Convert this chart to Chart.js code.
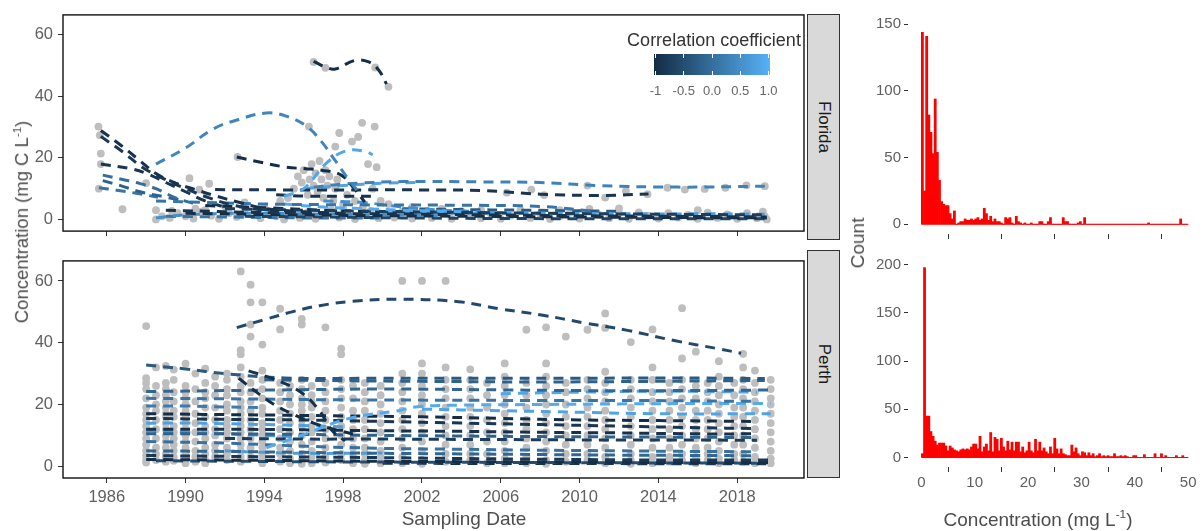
<!DOCTYPE html>
<html>
<head>
<meta charset="utf-8">
<script src="https://cdn.jsdelivr.net/npm/chart.js@4"></script>
<style>
  body { margin: 0; background: #fff; font-family: "Liberation Sans", Arial, sans-serif; }
  #wrap { position: relative; width: 1204px; height: 531px; overflow: hidden; }
  canvas { position: absolute; }
  .txt { position: absolute; white-space: nowrap; transform: translate(-50%, -50%); color: #4d4d4d; }
  .rot { transform: translate(-50%, -50%) rotate(-90deg); }
  .strip { position: absolute; box-sizing: border-box; width: 33px; left: 807px; background: #d9d9d9; border: 1px solid #333; }
  .strip span { position: absolute; left: 50%; top: 50%; transform: translate(-50%, -50%) rotate(90deg); font-size: 17px; color: #1a1a1a; white-space: nowrap; }
  sup { font-size: 0.62em; }
</style>
</head>
<body>
<div id="wrap">
  <canvas id="flo" width="808" height="246" style="left:0;top:0"></canvas>
  <canvas id="per" width="808" height="285" style="left:0;top:246px"></canvas>
  <canvas id="floH" width="364" height="246" style="left:840px;top:0"></canvas>
  <canvas id="perH" width="364" height="285" style="left:840px;top:246px"></canvas>

  <div class="strip" style="top:14px;height:226px"><span>Florida</span></div>
  <div class="strip" style="top:250px;height:228px"><span>Perth</span></div>

  <div class="txt rot" style="left:22px;top:222px;font-size:18.5px">Concentration (mg C L<sup>-1</sup>)</div>
  <div class="txt" style="left:464px;top:519px;font-size:19px">Sampling Date</div>
  <div class="txt rot" style="left:858px;top:243px;font-size:19px">Count</div>
  <div class="txt" style="left:1038px;top:519px;font-size:19px">Concentration (mg L<sup>-1</sup>)</div>

  <div class="txt" style="left:714px;top:40px;font-size:18px;color:#333">Correlation coefficient</div>
  <div id="cbar" style="position:absolute;left:654px;top:54px;width:116px;height:21px;background:linear-gradient(to right,#132B43,#56B1F7)"></div>
</div>

<script>
// axis ticks
const xTicks = [1986, 1990, 1994, 1998, 2002, 2006, 2010, 2014, 2018];
const yTicks = [0, 20, 40, 60];
const histXTicks = [0, 10, 20, 30, 40, 50];
const floridaHistTicks = [0, 50, 100, 150];
const perthHistTicks = [0, 50, 100, 150, 200];
const cbTicks = [-1, -0.5, 0, 0.5, 1];
const cbLabels = ["-1", "-0.5", "0.0", "0.5", "1.0"];

// Florida: observations (year, mg C/L)
const floridaPts = [
  [1985.58,30.2],[1985.65,27.4],[1985.7,21.4],[1985.7,18],[1985.6,10],[1986.8,3.3],[1988,11.8],[1988.5,3],[1988.5,0],
  [1990.2,13.4],[1990.7,9.7],[1991.2,11.6],[1992.64,20.3],[1996.26,30.2],[1996.5,51.2],[1997.1,49.3],[1997.8,28.1],
  [1997.6,23.7],[1998.45,25.3],[1998.76,26.8],[1998.96,31.4],[1999.6,30.2],[1999.63,49.4],[2000.3,43.1],[1999.26,18],[1999.7,17],
  [1995.5,10],[1995.7,14],[1995.9,12],[1996,16],[1996.2,8],[1996.3,13],[1996.4,18],[1996.5,11],[1996.6,15],[1996.7,9],
  [1996.8,19],[1996.9,13],[1997,7],[1997.1,16],[1997.2,11],[1997.3,14],[1997.5,6],[1997.6,10],[1997.7,13],[1998,5],
  [1998.2,8],[1998.6,6],[1999,4],[1999.5,10],[1999.9,6],[2000.3,5],[1995.2,7],[1994.8,6],
  [2006.3,8.7],[2007.55,9.7],[2008.2,7.9],[2010.4,11],[2011.3,7.1],[2012.35,9.2],[2013.45,8.2],[2014.46,10.3],[2015.34,9.7],
  [2016.35,9.9],[2017.4,10.3],[2018.47,11.1],[2019.4,10.8],[2001.5,4],[2004,2.7],[2007,3],[2010.5,3.4],[2013,2.3],[2019.4,1],[2019.5,0],
  [1988.8,1],[1989.2,0.5],[1989.6,2],[1990,1],[1990.4,0.3],[1990.8,2.5],[1991.3,1.2],[1991.7,0.2],[1992.2,2],[1992.6,0.8],
  [1993,3],[1993.4,1.5],[1993.8,0.4],[1994.2,2.2],[1994.6,1],[1995,0],[1995.4,1.8],[1995.8,0.5],[1996.2,2.4],[1996.6,0.2],
  [1997,1.4],[1997.4,3],[1997.8,0.6],[1998.2,2],[1998.6,0.1],[1999,1.5],[1999.4,2.8],[1999.8,0.4],[2000.2,1.8],[2000.6,0.6],
  [2001,2.5],[2001.5,0.3],[2002,1.6],[2002.5,0.5],[2003,2],[2003.5,0.2],[2004.5,1],[2005,0.4],[2005.5,1.8],[2006,0.2],
  [2006.5,1.2],[2007.5,0.5],[2008,1.8],[2008.5,0.1],[2009,1],[2009.5,2.2],[2010,0.3],[2011,1.5],[2011.5,0.4],[2012,2],
  [2012.5,0.2],[2013.5,1.2],[2014,0.3],[2014.5,2],[2015,0.6],[2015.5,1.5],[2016,0.2],[2016.5,2.2],[2017,0.5],[2017.5,1.6],
  [2018,0.2],[2018.5,2],[2019,0.4],[2019.3,2.5],[1990.5,3.5],[1992,4.2],[1989.3,2.8],[1991,3],[1994,4],[1998,3.6],
  [1993,5.5],[2003,3.4],[2005,3],[2009,3],[2012,3.6],[2016,3]
];

// Florida: fitted trend lines and their correlation coefficients
const floridaCoef = [-0.95, 0.35, -0.9, -0.8, -0.95, 0.85, 0.3, -0.85, 0.8, -0.9, 0.1, 0.9, -0.85, 0, -0.2, 0.1,
  -0.9, -0.95, 0.5, -0.7, 0.7, -0.6, -1, 0.5, 0.1, -0.3];
const floridaLines = [
  [[1996.5,51.4],[1997.2,49.3],[1997.6,48.9],[1998.6,51.7],[1999.3,51.2],[1999.8,48.6],[2000.2,44]],
  [[1988.5,18],[1990,23.2],[1991.4,29.4],[1992.7,32.5],[1994.1,34.6],[1995.1,33.6],[1996.1,30.5],[1996.9,25.3],[1997.6,19.1],[1998.3,12.8],[1998.8,8.7]],
  [[1985.7,28.9],[1986.7,24.2],[1987.7,19],[1988.5,14.9],[1989.5,11.8],[1990.5,9.7],[1991.5,7.7],[1992.7,5.6],[1994.1,3.5],[1996,2.5],[1998,2]],
  [[1985.7,27],[1986.8,22],[1987.8,17],[1988.8,13.5],[1990,10],[1991.2,7],[1992.5,4.5],[1994,3],[1996,2.2]],
  [[1992.6,20.3],[1993.5,19],[1995.1,17],[1996.1,16.5],[1996.9,16],[1997.9,14.4],[1998.6,9.7],[1999.1,5.6]],
  [[1995,7.5],[1996,10],[1997.1,18],[1998.1,22.2],[1999.1,22.2],[1999.5,21]],
  [[1996.5,10.5],[1998,11.5],[2001,12.3],[2005,12.2],[2008,12],[2011,11],[2015,10.5],[2019.4,10.8]],
  [[1991.5,9.7],[1995,9.6],[1998,9.6],[2002,9.6],[2005,9.4],[2008,8.2],[2011.3,7.8],[2013.5,8.3]],
  [[1996,10],[1998,11],[2000,11.8],[2002,12]],
  [[1994.6,8],[1996,7.6],[1998,7.5],[1999.6,7.5]],
  [[1988.5,6],[1991,5.5],[1994,5],[1997,4.8],[2000,4.7],[2004,4.6],[2008,4.2],[2011,2.5]],
  [[1995,5],[1997,4],[1999,3.5],[2001,3],[2004,2.5]],
  [[1985.7,18],[1987.2,16.5],[1988,15],[1989,12],[1990,9],[1991,6],[1992,4]],
  [[1985.8,14.4],[1986.8,13],[1987.5,12],[1988.5,10],[1989.5,7],[1990.5,5]],
  [[1985.8,12.6],[1986.7,11],[1987.7,9],[1988.8,7.5],[1990,6]],
  [[1985.6,10.3],[1986.5,9.5],[1987.5,8.5],[1988.6,7.2]],
  [[1989,3],[1992,2.5],[1996,2],[2000,1.8],[2005,1.5],[2010,1.2],[2015,1],[2019.5,0.8]],
  [[1990,2],[1995,1.5],[2000,1.2],[2005,1],[2010,0.8],[2015,0.6],[2019.5,0.5]],
  [[1988.5,0.5],[1990,1.5],[1993,2],[1996,1.8],[2000,1.5],[2003,1.2]],
  [[1992,3.5],[1996,3],[2000,2.6],[2004,2.3],[2008,2],[2012,1.8],[2016,1.6],[2019.4,1.5]],
  [[2000,2.2],[2004,2],[2008,2],[2011,1.9],[2014,1.8],[2017,1.8],[2019.4,1.7]],
  [[1993,1],[1997,0.8],[2001,0.5],[2006,0.3],[2012,0.2],[2019.4,0.2]],
  [[1991,4.5],[1994,3.8],[1997,3],[2000,2.5],[2003,2.2],[2006,2]],
  [[1997,6],[1999,5.5],[2001,4],[2003,3],[2005,2.5]],
  [[1989,1],[1992,0.8],[1996,0.5],[2000,0.5]],
  [[2001,3.5],[2004,3.2],[2007,3],[2010,2.8],[2012,2.6]]
];

// Perth: observations grouped by sampling date
const perthDates = [1988.0, 1988.5, 1989.0, 1989.4, 1990.0, 1990.5, 1991.0, 1991.5, 1992.1, 1992.8, 1993.3, 1993.9, 1994.8,
  1995.3, 1995.9, 1996.4, 1997.1, 1997.9, 1998.5, 1999.1, 1999.9, 2001.0, 2002.0, 2003.2, 2004.45, 2005.3, 2006.2, 2007.3,
  2008.3, 2009.3, 2010.4, 2011.3, 2012.6, 2013.7, 2014.56, 2015.2, 2015.9, 2016.5, 2017.07, 2017.85, 2018.3, 2018.9, 2019.7];
const perthCols = [
  [45.4, 28.5, 27, 25, 22, 19, 17, 15, 13, 11, 9, 7, 5, 3.5, 2, 1.2],
  [32, 26, 23, 20, 18, 15, 12, 9, 6, 4, 2],
  [32.5, 27, 25, 23, 21, 19, 17, 16, 14, 12, 10, 8, 6, 4, 3, 1.5],
  [31.3, 28, 24, 21, 18, 16, 13, 11, 9, 7, 5, 3, 1.8],
  [33.2, 26, 24, 22, 20, 18, 16, 14, 12, 10, 8, 6, 4, 2.5, 1],
  [30, 25, 21, 17, 14, 11, 8, 5, 3, 1.5],
  [31.6, 27, 24, 22, 19, 16, 13, 11, 9, 6, 4, 2, 1],
  [29, 26, 23, 19, 15, 12, 10, 7, 5, 3],
  [30, 28, 25, 23, 20, 18, 15, 13, 11, 9, 6, 4, 2],
  [63.1, 37.6, 36.3, 32, 29, 26, 24, 21, 19, 17, 15, 13, 11, 9, 7, 5, 3, 1.5],
  [58.8, 53.1, 45.9, 42, 27, 24, 21, 18, 15, 12, 9, 6, 3],
  [53.1, 39.4, 31, 28, 25, 22, 19, 17, 14, 12, 10, 8, 6, 4, 2, 1],
  [51, 44.3, 27, 24, 21, 18, 15, 12, 9, 6, 4, 1.5],
  [26, 23, 20, 17, 14, 11, 8, 5, 2.5, 1],
  [47.7, 45.9, 28, 25, 22, 20, 18, 15, 13, 10, 7, 4, 2, 0.8],
  [26, 23, 21, 19, 16, 13, 11, 8, 5, 3, 1],
  [45, 27, 24, 21, 18, 15, 12, 9, 6, 3, 1.2],
  [38.1, 36.3, 28, 25, 22, 19, 16, 13, 10, 7, 4, 2],
  [26, 22, 18, 15, 12, 9, 6, 3, 1],
  [27, 24, 21, 18, 15, 12, 9, 6, 4, 2, 0.8],
  [26, 23, 20, 17, 14, 11, 8, 5, 3, 1],
  [60, 30, 27, 24, 21, 18, 15, 12, 9, 6, 3, 1],
  [60, 33.3, 30, 26, 23, 20, 17, 14, 11, 8, 5, 2, 0.8],
  [60, 32, 28, 25, 22, 19, 16, 13, 10, 7, 4, 1.5],
  [31.4, 28, 25, 22, 19, 16, 13, 10, 7, 4, 2],
  [27, 23, 19, 15, 11, 8, 4, 1],
  [33.3, 29, 26, 23, 20, 17, 14, 11, 8, 5, 2.5, 1],
  [44.2, 27, 23, 19, 15, 12, 9, 6, 3, 1],
  [45, 33.3, 29, 26, 23, 20, 17, 14, 11, 8, 5, 2, 0.8],
  [42, 27, 24, 20, 16, 13, 10, 7, 4, 1.5],
  [44.2, 28, 25, 22, 19, 16, 13, 10, 7, 4, 2],
  [49.5, 44.8, 30.6, 27, 24, 21, 18, 15, 12, 9, 6, 3, 1],
  [40.2, 28, 25, 22, 19, 16, 13, 10, 7, 4, 2, 0.8],
  [44.3, 32, 28, 24, 21, 18, 15, 12, 9, 6, 3, 1],
  [27, 24, 21, 18, 15, 12, 9, 6, 3, 1.5],
  [51.2, 34.9, 28, 25, 22, 19, 16, 13, 10, 7, 4, 2],
  [37.1, 26, 22, 18, 15, 12, 9, 6, 3, 1],
  [27, 24, 21, 18, 15, 12, 9, 6, 4, 2],
  [34, 29, 26, 23, 20, 17, 14, 11, 8, 5, 2.5, 1],
  [27, 23, 19, 16, 13, 10, 7, 4, 2],
  [36.4, 32, 28, 25, 22, 19, 16, 13, 10, 7, 4, 1.5],
  [31, 27, 24, 21, 18, 15, 12, 9, 6, 3, 1],
  [28, 25, 22, 20, 17, 14, 11, 8, 5, 2.5, 1]
];

// Perth: fitted trend lines and their correlation coefficients
const perthCoef = [-0.55, -0.9, -0.95, -0.3, -0.2, -0.1, 0.85, 0.1, 0.9, 0.8, -0.95, -0.85, 0.75, -0.9, -0.2,
  -0.75, 0.6, 0.05, -0.1, 0.7, -0.8, -0.95, -0.5, -0.9, 0.2];
const perthLines = [
  [[1992.6,44.9],[1994.07,47.6],[1995.4,50],[1996.8,52],[1998.45,53.4],[2000.8,54.1],[2003.85,53.3],[2005.9,51],[2008.06,49],[2010.25,46.4],[2012.44,44],[2014.8,40.7],[2017,38.1],[2018.2,36.6]],
  [[1993.2,30.9],[1994.4,28.4],[1995.8,24.2],[1996.8,18],[1997.4,11.8],[1998.1,8.2]],
  [[1992.7,28.5],[1993.6,24],[1994.5,20],[1995.4,17],[1996.5,14],[1997.5,12],[1998.5,10.5]],
  [[1988,32.8],[1990,31.5],[1992,30],[1995,28.6],[2000,28.5],[2005,28.5],[2010,28.5],[2015,28.6],[2019.4,28.4]],
  [[1994,28],[1998,27.7],[2002,27.5],[2008,27.3],[2014,27.5],[2019.4,27.8]],
  [[1988,24.2],[1992,24.5],[1996,24.8],[2000,25],[2005,24.8],[2010,24.5],[2015,24.5],[2019.7,24.7]],
  [[2006,23.5],[2010,24],[2014,24.3],[2019,24]],
  [[1988,22],[1993,21.8],[1998,21.5],[2003,21.4],[2008,21.3],[2013,21.3],[2019,21]],
  [[1994.1,6],[1995.8,9.8],[1998.3,15.5],[2000.8,18],[2001.8,19.3],[2004.1,19.8],[2008,20],[2012,20.2],[2016,20.3],[2019.7,20.3]],
  [[2002,18.5],[2006,18],[2010,17.5],[2014,17],[2019.7,17]],
  [[1988,17],[1991,16.8],[1994,16.6],[1998,16.3],[2002,16],[2006,15.5],[2010,15],[2014,14.8],[2018.9,14.5]],
  [[1988,15.5],[1992,15.2],[1996,15],[2000,14.5],[2004,14],[2008,13.5],[2012,13],[2016,12.5],[2018.9,12.2]],
  [[1988,13.9],[1990,14],[1992,13.8],[1994,13.5],[1996,13.2],[1998,12.8]],
  [[1988,12],[1992,12],[1996,11.8],[2000,11.5],[2004,11.3],[2008,11],[2012,10.8],[2016,10.5],[2019,10.5]],
  [[1988,10.5],[1992,10.5],[1996,10.3],[2000,10],[2004,9.8],[2008,9.6],[2012,9.5],[2016,9.4],[2019,9.3]],
  [[1992,9],[1996,8.8],[2000,8.8],[2004,8.7],[2008,8.6],[2012,8.5],[2016,8.5],[2019,8.4]],
  [[1988,11.5],[1990,11],[1992,10.5],[1994,10],[1996,9.5]],
  [[1988,8],[1992,7.5],[1996,6.5],[2000,5.8],[2004,5.5],[2008,5.2],[2012,5],[2016,4.8],[2019,4.7]],
  [[1988,5],[1992,4.8],[1996,4.5],[2000,4.2],[2004,4],[2008,3.8],[2012,3.6],[2016,3.5],[2019,3.4]],
  [[1992,5],[1994,4.5],[1996,4.2],[1998,4.2],[2000,4.3]],
  [[1988,3.5],[1992,3.2],[1996,3],[2000,2.8],[2004,2.5],[2008,2.3],[2012,2.1],[2016,2],[2019.7,2]],
  [[1988,2.2],[1992,2],[1996,1.8],[2000,1.6],[2004,1.5],[2008,1.4],[2012,1.3],[2016,1.2],[2019.7,1.2]],
  [[1988.5,1.8],[1993,1.6],[1998,1.4],[2003,1.3],[2008,1.2],[2013,1.1],[2019,1]],
  [[2000,1],[2005,0.9],[2010,0.9],[2015,0.8],[2019.7,0.8]],
  [[1988,19.5],[1990,19.5],[1992,19.2],[1994,19]]
];

// histograms, bins of 0.4 mg/L starting at 0
const binWidth = 0.4;
const floridaCounts = [
  144,25,141,82,69,53,94,54,33,17, 15,14,14,8,4,10,0,1,2,2, 4,3,3,4,3,4,5,3,4,12, 8,3,6,2,4,2,2,1,0,5,
  4,5,1,0,6,2,1,0,1,0, 0,1,0,0,0,2,2,0,0,2, 5,0,0,0,0,0,5,2,2,0, 0,0,0,1,2,0,5,0,0,0,
  0,0,0,0,0,0,0,0,0,0, 0,0,0,0,0,0,0,0,0,0, 0,0,0,0,0,0,1,0,0,0, 0,0,0,0,0,0,0,0,0,0, 0,4,0,0,0
];
const perthCounts = [
  4,197,43,43,27,22,17,13,15,15, 15,12,7,12,10,8,7,6,8,9, 8,9,8,11,14,14,9,22,6,11, 14,7,26,6,21,19,7,20,11,7,
  17,8,16,7,16,16,6,11,5,7, 16,7,5,19,7,16,7,10,6,4, 11,4,20,9,4,9,4,3,2,2, 13,6,10,4,2,6,5,2,5,2,
  4,1,2,4,1,2,1,2,1,1, 4,1,1,2,1,2,1,0,0,2, 2,0,0,0,3,0,0,0,0,4, 0,0,4,0,2,0,0,0,0,2, 0,0,2,0,0
];

Chart.defaults.font.family = "'Liberation Sans', Arial, sans-serif";
Chart.defaults.color = "#606060";
Chart.defaults.animation = false;

const lowCol = [19, 43, 67], highCol = [86, 177, 247];
function coefColor(r) {
  const t = (r + 1) / 2;
  return "rgb(" + lowCol.map((c, i) => Math.round(c + (highCol[i] - c) * t)).join(",") + ")";
}

const boxPlugin = {
  id: "box",
  afterDatasetsDraw(chart) {
    const a = chart.chartArea, ctx = chart.ctx;
    ctx.save();
    ctx.strokeStyle = "#111";
    ctx.lineWidth = 1.4;
    ctx.strokeRect(a.left, a.top, a.right - a.left, a.bottom - a.top);
    ctx.restore();
  }
};

const baselinePlugin = {
  id: "baseline",
  beforeDatasetsDraw(chart) {
    const x = chart.scales.x, y = chart.scales.y, ctx = chart.ctx;
    ctx.save();
    ctx.strokeStyle = "red";
    ctx.lineWidth = 1;
    ctx.beginPath();
    ctx.moveTo(x.getPixelForValue(0), y.getPixelForValue(0));
    ctx.lineTo(x.getPixelForValue(50), y.getPixelForValue(0));
    ctx.stroke();
    ctx.restore();
  }
};

function tickGrid() {
  return { drawOnChartArea: false, drawTicks: true, tickLength: 5, tickColor: "#333", color: "#333" };
}

function scatterChart(id, pts, lines, coefs, showX, padTop, xH) {
  const datasets = lines.map((ln, i) => ({
    data: ln.map(p => ({ x: p[0], y: p[1] })),
    showLine: true,
    borderColor: coefColor(coefs[i]),
    borderWidth: 3,
    borderDash: [10, 7],
    pointRadius: 0,
    tension: 0.4,
    fill: false,
    order: 1
  }));
  datasets.push({
    data: pts.map(p => ({ x: p[0], y: p[1] })),
    backgroundColor: "#bebebe",
    borderWidth: 0,
    pointRadius: 3.9,
    order: 2
  });

  new Chart(document.getElementById(id), {
    type: "scatter",
    data: { datasets: datasets },
    options: {
      responsive: false,
      layout: { padding: { top: padTop, right: 1, left: 0, bottom: 0 } },
      plugins: { legend: { display: false }, tooltip: { enabled: false } },
      scales: {
        x: {
          type: "linear", min: 1983.78, max: 2021.39,
          afterBuildTicks: s => { s.ticks = xTicks.map(v => ({ value: v })); },
          afterFit: s => { s.height = xH; },
          grid: tickGrid(),
          border: { display: false },
          ticks: { display: showX, padding: 5, font: { size: 16.5 }, color: "#606060", maxRotation: 0, autoSkip: false, callback: v => String(v) }
        },
        y: {
          min: -3.8, max: 66.5,
          afterBuildTicks: s => { s.ticks = yTicks.map(v => ({ value: v })); },
          afterFit: s => { s.width = 63; },
          grid: tickGrid(),
          border: { display: false },
          ticks: { padding: 5, font: { size: 16.5 }, color: "#606060", callback: v => String(v) }
        }
      }
    },
    plugins: [boxPlugin]
  });
}

function histChart(id, counts, yT, yMin, yMax, showX, padTop, xH) {
  new Chart(document.getElementById(id), {
    type: "bar",
    data: {
      datasets: [{
        data: counts.map((c, i) => ({ x: i * binWidth + binWidth / 2, y: c })),
        backgroundColor: "#ff0000",
        borderWidth: 0,
        barPercentage: 1,
        categoryPercentage: 1
      }]
    },
    options: {
      responsive: false,
      layout: { padding: { top: padTop, right: 2, left: 0, bottom: 0 } },
      plugins: { legend: { display: false }, tooltip: { enabled: false } },
      scales: {
        x: {
          type: "linear", min: -2.5, max: 52.6, offset: false,
          afterBuildTicks: s => { s.ticks = histXTicks.map(v => ({ value: v })); },
          afterFit: s => { s.height = xH; },
          grid: tickGrid(),
          border: { display: false },
          ticks: { display: showX, padding: 2, font: { size: 15 }, color: "#606060", maxRotation: 0, autoSkip: false, callback: v => String(v) }
        },
        y: {
          min: yMin, max: yMax,
          afterBuildTicks: s => { s.ticks = yT.map(v => ({ value: v })); },
          afterFit: s => { s.width = 68; },
          grid: { drawOnChartArea: false, drawTicks: true, tickLength: 4, tickColor: "#333", color: "#333" },
          border: { display: false },
          ticks: { padding: 3, font: { size: 15 }, color: "#606060", callback: v => String(v) }
        }
      }
    },
    plugins: [baselinePlugin]
  });
}

const perthPts = [];
perthDates.forEach((d, i) => perthCols[i].forEach(v => perthPts.push([d, v])));

scatterChart("flo", floridaPts, floridaLines, floridaCoef, false, 14, 6);
scatterChart("per", perthPts, perthLines, perthCoef, true, 4, 53);
histChart("floH", floridaCounts, floridaHistTicks, -7.3, 151, false, 23, 12);
histChart("perH", perthCounts, perthHistTicks, -9.8, 207, true, 6, 64);

// colour bar ticks and labels
const wrap = document.getElementById("wrap");
const cbLeft = 654, cbWidth = 116, cbTop = 54, cbHeight = 21;
cbTicks.forEach((t, i) => {
  const x = cbLeft + (t + 1) / 2 * (cbWidth - 3) + 1.5;
  ["top", "bottom"].forEach(side => {
    const m = document.createElement("div");
    m.style.cssText = "position:absolute;width:1px;height:4px;background:#fff;left:" + (x - 0.5) + "px;top:" +
      (side === "top" ? cbTop : cbTop + cbHeight - 4) + "px";
    wrap.appendChild(m);
  });
  const lab = document.createElement("div");
  lab.className = "txt";
  lab.style.cssText = "left:" + x + "px;top:90px;font-size:13px;color:#666";
  lab.textContent = cbLabels[i];
  wrap.appendChild(lab);
});
</script>
</body>
</html>
